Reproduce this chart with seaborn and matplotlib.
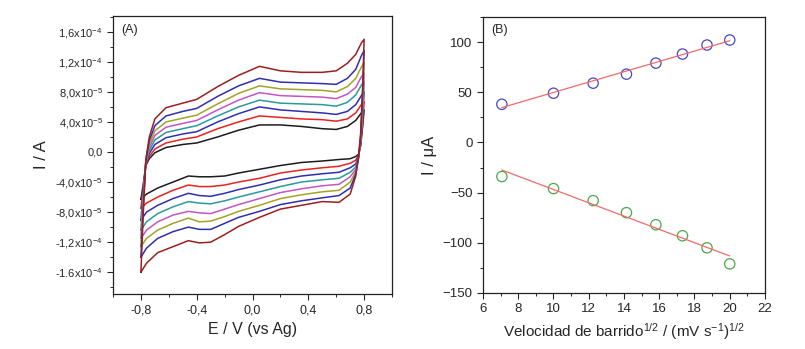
import numpy as np
import pandas as pd
import matplotlib
matplotlib.use('Agg')
import matplotlib.pyplot as plt
from matplotlib.ticker import MultipleLocator, FixedLocator
import seaborn as sns

# ---- panel A: cyclic voltammograms (current in 1e-5 A) ----
E_UP = [-0.80, -0.785, -0.765, -0.74, -0.70, -0.62, -0.50, -0.40, -0.25, -0.10,
        0.05, 0.20, 0.35, 0.50, 0.60, 0.68, 0.74, 0.78, 0.80]
E_DOWN = [0.80, 0.79, 0.775, 0.76, 0.74, 0.70, 0.62, 0.50, 0.35, 0.20, 0.05,
          -0.10, -0.20, -0.30, -0.38, -0.46, -0.57, -0.68, -0.76, -0.80]

CURVE_NAMES = ['50', '100', '150', '200', '250', '300', '350', '400']
CURVE_COLORS = ['#1c1c1c', '#e8231f', '#2e2fb0', '#2a9a9a', '#c455c4',
                '#a3a326', '#2e2fb0', '#9c1f1f']

UP = {
    '50':  [-6.3, -4.5, -1.8, -0.9, -0.1, 0.6, 1.0, 1.2, 2.0, 2.9, 3.6, 3.6, 3.4, 3.1, 3.0, 3.4, 4.2, 5.2, 5.6],
    '100': [-7.5, -5.0, -1.7, -0.6, 0.4, 1.2, 1.7, 2.0, 3.1, 4.0, 4.8, 4.6, 4.4, 4.3, 4.1, 4.4, 5.2, 6.3, 6.7],
    '150': [-9.1, -5.5, -1.6, -0.2, 1.0, 1.9, 2.4, 2.7, 4.0, 5.1, 6.0, 5.6, 5.4, 5.2, 5.0, 5.4, 6.3, 7.5, 8.0],
    '200': [-10.4, -6.0, -1.5, 0.2, 1.6, 2.6, 3.1, 3.5, 4.8, 6.0, 6.9, 6.5, 6.4, 6.3, 6.1, 6.6, 7.6, 8.9, 9.4],
    '250': [-11.5, -6.5, -1.4, 0.6, 2.2, 3.3, 3.8, 4.2, 5.6, 6.9, 7.9, 7.5, 7.4, 7.3, 7.1, 7.7, 8.6, 10.0, 10.5],
    '300': [-12.6, -7.0, -1.3, 1.0, 2.8, 4.0, 4.5, 4.9, 6.4, 7.8, 8.8, 8.4, 8.3, 8.2, 8.0, 8.7, 9.8, 11.3, 11.9],
    '350': [-14.0, -8.0, -1.2, 1.5, 3.5, 4.8, 5.4, 5.8, 7.4, 8.8, 9.8, 9.3, 9.2, 9.1, 9.0, 9.8, 11.0, 12.8, 13.5],
    '400': [-16.0, -9.0, -1.0, 2.0, 4.4, 5.9, 6.5, 7.0, 8.7, 10.2, 11.4, 10.8, 10.6, 10.6, 10.8, 11.8, 13.0, 14.5, 15.0],
}
DOWN = {
    '50':  [5.6, 3.5, 0.8, -0.3, -0.6, -0.9, -1.0, -1.2, -1.4, -1.8, -2.3, -2.8, -3.2, -3.3, -3.3, -3.2, -4.0, -4.8, -5.6, -6.3],
    '100': [6.7, 4.0, 1.0, -0.4, -1.1, -1.5, -1.9, -2.1, -2.4, -2.8, -3.5, -4.0, -4.4, -4.6, -4.6, -4.4, -5.1, -6.0, -6.8, -7.5],
    '150': [8.0, 5.0, 1.2, -0.5, -1.6, -2.1, -2.7, -2.9, -3.2, -3.7, -4.4, -5.0, -5.5, -5.9, -5.8, -5.5, -6.2, -7.1, -8.0, -9.1],
    '200': [9.4, 5.5, 1.3, -0.6, -2.0, -2.7, -3.5, -3.7, -4.0, -4.6, -5.3, -6.0, -6.5, -6.9, -6.8, -6.6, -7.3, -8.2, -9.3, -10.4],
    '250': [10.5, 6.0, 1.5, -0.7, -2.3, -3.3, -4.3, -4.5, -4.9, -5.4, -6.2, -7.0, -7.6, -8.2, -8.1, -7.9, -8.4, -9.3, -10.4, -11.5],
    '300': [11.9, 7.0, 1.8, -0.8, -2.6, -4.0, -5.1, -5.3, -5.7, -6.2, -7.1, -7.9, -8.6, -9.2, -9.3, -8.8, -9.5, -10.4, -11.5, -12.6],
    '350': [13.5, 8.0, 2.0, -0.8, -2.9, -4.8, -5.8, -6.1, -6.5, -7.0, -7.9, -8.7, -9.5, -10.3, -10.3, -10.0, -10.6, -11.5, -12.8, -14.0],
    '400': [15.0, 9.0, 2.5, -0.5, -3.2, -5.6, -6.7, -6.6, -7.1, -7.6, -8.7, -9.9, -11.0, -12.0, -12.1, -11.8, -12.6, -13.4, -14.8, -16.0],
}

A_YTICKS = [-16e-5, -12e-5, -8e-5, -4e-5, 0.0, 4e-5, 8e-5, 12e-5, 16e-5]
A_YTICKLABELS = ['-1.6x10$^{-4}$', '-1,2x10$^{-4}$', '-8,0x10$^{-5}$', '-4,0x10$^{-5}$',
                 '0,0', '4,0x10$^{-5}$', '8,0x10$^{-5}$', '1,2x10$^{-4}$', '1,6x10$^{-4}$']
A_XTICKS = [-0.8, -0.4, 0.0, 0.4, 0.8]
A_XTICKLABELS = ['-0,8', '-0,4', '0,0', '0,4', '0,8']

# ---- panel B: peak current vs sqrt(scan rate) ----
SQRT_V = [7.07, 10.0, 12.25, 14.14, 15.81, 17.32, 18.71, 20.0]
I_ANODIC = [38, 49, 59, 68, 79, 88, 97, 102]
I_CATHODIC = [-34, -46, -58, -70, -82, -93, -105, -121]


def cv_frame():
    rows = []
    for name in CURVE_NAMES:
        es = E_UP + E_DOWN
        cur = UP[name] + DOWN[name]
        for k, (e, i) in enumerate(zip(es, cur)):
            rows.append({'E': e, 'I': i * 1e-5, 'curve': name, 'order': k})
    return pd.DataFrame(rows)


def main():
    sns.set_theme(style='ticks')
    plt.rcParams['font.family'] = ['Liberation Sans', 'DejaVu Sans']
    plt.rcParams['mathtext.fontset'] = 'custom'
    plt.rcParams['mathtext.rm'] = 'Liberation Sans'
    plt.rcParams['mathtext.it'] = 'Liberation Sans:italic'
    plt.rcParams['xtick.direction'] = 'out'
    plt.rcParams['ytick.direction'] = 'out'

    fig = plt.figure(figsize=(8.05, 3.49), dpi=100)
    ax_a = fig.add_axes([0.1404, 0.1576, 0.3466, 0.7966])
    ax_b = fig.add_axes([0.6000, 0.1605, 0.3503, 0.7910])

    df = cv_frame()
    palette = dict(zip(CURVE_NAMES, CURVE_COLORS))
    sns.lineplot(data=df, x='E', y='I', hue='curve', palette=palette,
                 sort=False, estimator=None, legend=False, lw=1.1, ax=ax_a)
    ax_a.set_xlim(-1.0, 1.0)
    ax_a.set_ylim(-1.89e-4, 1.81e-4)
    ax_a.xaxis.set_major_locator(FixedLocator(A_XTICKS))
    ax_a.set_xticklabels(A_XTICKLABELS)
    ax_a.xaxis.set_minor_locator(MultipleLocator(0.2))
    ax_a.yaxis.set_major_locator(FixedLocator(A_YTICKS))
    ax_a.set_yticklabels(A_YTICKLABELS)
    ax_a.yaxis.set_minor_locator(MultipleLocator(2e-5))
    ax_a.set_xlabel('E / V (vs Ag)', fontsize=11.5)
    ax_a.set_ylabel('I / A', fontsize=12)
    ax_a.text(0.03, 0.95, '(A)', transform=ax_a.transAxes, fontsize=9,
              va='center', ha='left')

    sns.scatterplot(x=SQRT_V, y=I_ANODIC, marker='o', s=55, facecolors='none',
                    edgecolor='#4747c4', linewidth=0.9, ax=ax_b)
    sns.scatterplot(x=SQRT_V, y=I_CATHODIC, marker='o', s=55, facecolors='none',
                    edgecolor='#4ca84c', linewidth=0.9, ax=ax_b)
    for ys in (I_ANODIC, I_CATHODIC):
        sns.regplot(x=SQRT_V, y=ys, scatter=False, ci=None, color='#f06a6a',
                    line_kws={'lw': 0.9}, truncate=True, ax=ax_b)
    ax_b.set_xlim(6, 22)
    ax_b.set_ylim(-150, 125)
    ax_b.xaxis.set_major_locator(MultipleLocator(2))
    ax_b.xaxis.set_minor_locator(MultipleLocator(1))
    ax_b.yaxis.set_major_locator(FixedLocator([-150, -100, -50, 0, 50, 100]))
    ax_b.yaxis.set_minor_locator(MultipleLocator(25))
    ax_b.set_xlabel('Velocidad de barrido$^{1/2}$ / (mV s$^{-1}$)$^{1/2}$', fontsize=11)
    ax_b.set_ylabel('I / μA', fontsize=12)
    ax_b.text(0.03, 0.953, '(B)', transform=ax_b.transAxes, fontsize=9,
              va='center', ha='left')

    for ax in (ax_a, ax_b):
        for sp in ax.spines.values():
            sp.set_visible(True)
            sp.set_linewidth(0.9)
            sp.set_color('#222222')
        ax.tick_params(which='major', length=4, width=0.8, labelsize=9.5,
                       top=False, right=False)
        ax.tick_params(which='minor', length=2.5, width=0.7,
                       top=False, right=False)
    ax_a.tick_params(axis='y', labelsize=8)
    ax_a.tick_params(axis='x', labelsize=9)

    fig.savefig('out.png', dpi=100)


if __name__ == '__main__':
    main()
